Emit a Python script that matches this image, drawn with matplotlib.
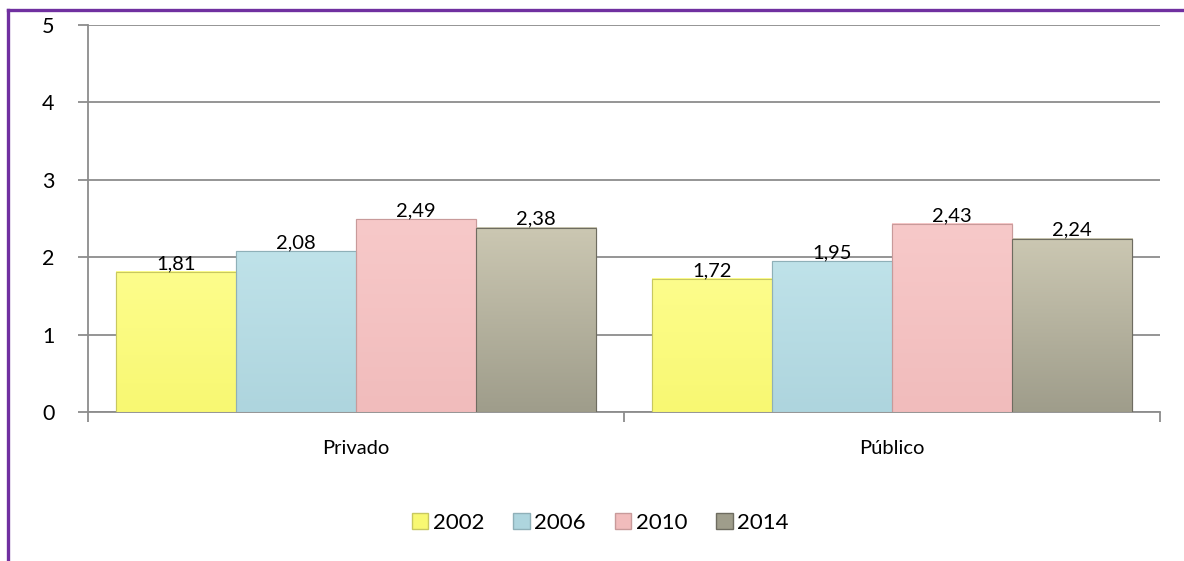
import numpy as np
import matplotlib
matplotlib.use('Agg')
import matplotlib.pyplot as plt
from matplotlib.lines import Line2D
from matplotlib.colors import to_rgb

plt.rcParams.update({
    'font.family': ['Lato', 'DejaVu Sans'],
    'font.size': 14,
})

categories = ['Privado', 'Público']
years = ['2002', '2006', '2010', '2014']
values = {
    '2002': [1.81, 1.72],
    '2006': [2.08, 1.95],
    '2010': [2.49, 2.43],
    '2014': [2.38, 2.24],
}

# (top, bottom) colours for the vertical shading of each series
shades = {
    '2002': ('#FDFD8C', '#F8F872'),
    '2006': ('#BFE2E9', '#AED5DE'),
    '2010': ('#F7C9C9', '#F1BCBC'),
    '2014': ('#CBC7B2', '#9F9D8B'),
}
edges = {'2002': '#C8C860', '2006': '#8FB0B8', '2010': '#C89A9A', '2014': '#6E6C60'}

fig = plt.figure(figsize=(11.84, 5.61), dpi=100)
ax = fig.add_axes([0.0743, 0.2656, 0.9054, 0.6898])

x = np.arange(len(categories))
w = 0.224
grid_c = '#8C8C8C'

for i, yr in enumerate(years):
    offs = (i - 1.5) * w
    bars = ax.bar(x + offs, values[yr], w, color=shades[yr][1],
                  edgecolor=edges[yr], linewidth=0.8, zorder=3, label=yr)
    top, bot = to_rgb(shades[yr][0]), to_rgb(shades[yr][1])
    t = np.linspace(0, 1, 64)[:, None]
    grad = (np.array(top) * (1 - t) + np.array(bot) * t)[:, None, :]
    for b, v in zip(bars, values[yr]):
        x0, x1 = b.get_x(), b.get_x() + b.get_width()
        ax.imshow(grad, extent=(x0, x1, 0, v), aspect='auto',
                  origin='upper', zorder=3.5, interpolation='bilinear')
        ax.add_patch(plt.Rectangle((x0, 0), x1 - x0, v, fill=False,
                                   edgecolor=edges[yr], linewidth=0.8, zorder=4))
        ax.annotate(f'{v:.2f}'.replace('.', ','), (b.get_x() + b.get_width() / 2, v),
                    xytext=(0, 0), textcoords='offset points',
                    ha='center', va='bottom', fontsize=14.5, zorder=5)

ax.set_xlim(-0.5, 1.5)
ax.set_ylim(0, 5)
ax.set_yticks(range(6))
ax.yaxis.grid(True, color=grid_c, linewidth=1.3, zorder=0)
ax.set_axisbelow(True)

# category boundaries carry the x ticks, labels sit in the middle
ax.set_xticks([-0.5, 0.5, 1.5])
ax.set_xticklabels([])
ax.set_xticks(x, minor=True)
ax.set_xticklabels(categories, minor=True)
ax.tick_params(axis='x', which='minor', length=0, pad=20, labelsize=14.5)
ax.tick_params(axis='x', which='major', length=7, color=grid_c, width=1.3)
ax.tick_params(axis='y', length=7, color=grid_c, width=1.3, labelsize=15.5, pad=17)

for s in ['top', 'right']:
    ax.spines[s].set_visible(False)
for s in ['left', 'bottom']:
    ax.spines[s].set_color(grid_c)
    ax.spines[s].set_linewidth(1.3)

handles = [plt.Rectangle((0, 0), 1, 1, facecolor=shades[yr][1], edgecolor=edges[yr])
           for yr in years]
fig.legend(handles, years, loc='center', bbox_to_anchor=(0.507, 0.068), ncol=4,
           frameon=False, fontsize=16, handlelength=0.75, handleheight=0.75,
           handletextpad=0.2, columnspacing=1.3)

# purple frame on the left and top edges
frame_c = '#7030A0'
fig.add_artist(Line2D([8 / 1184, 8 / 1184], [0, 1 - 10 / 561], color=frame_c,
                      linewidth=2.4, transform=fig.transFigure))
fig.add_artist(Line2D([8 / 1184, 1], [1 - 10 / 561, 1 - 10 / 561], color=frame_c,
                      linewidth=2.4, transform=fig.transFigure))

fig.savefig('out.png', dpi=100)
